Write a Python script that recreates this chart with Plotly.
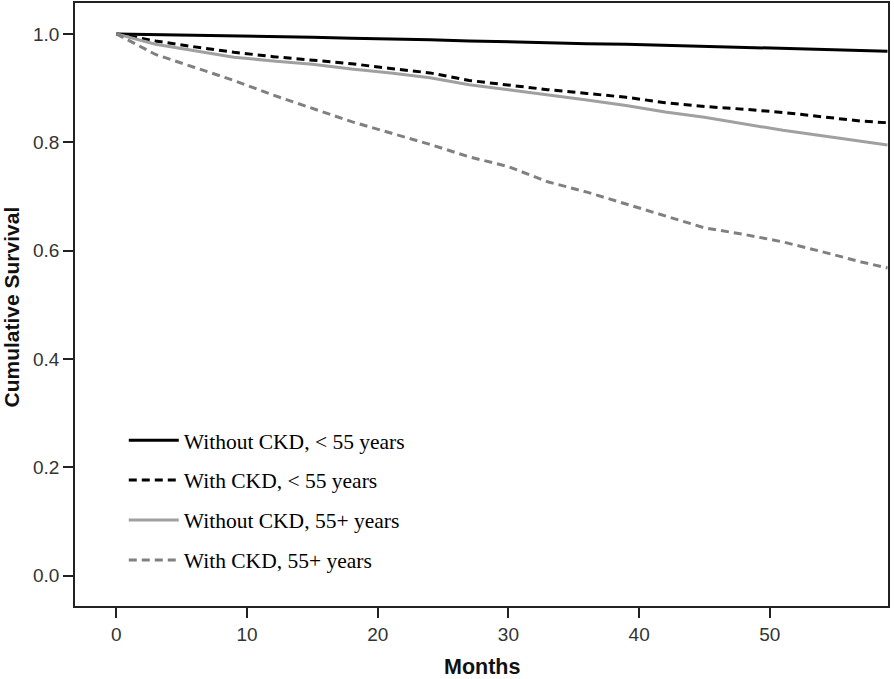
import plotly.graph_objects as go

months = [0, 3, 6, 9, 12, 15, 18, 21, 24, 27, 30, 33, 36, 39, 42, 45, 48, 51, 54, 57, 59]

without_ckd_lt55 = [1.0, 0.999, 0.998, 0.997, 0.995, 0.994, 0.992, 0.991, 0.989, 0.987, 0.985,
                    0.984, 0.982, 0.981, 0.979, 0.977, 0.976, 0.974, 0.972, 0.970, 0.968]
with_ckd_lt55 = [1.0, 0.987, 0.976, 0.966, 0.958, 0.952, 0.945, 0.936, 0.928, 0.914, 0.905,
                 0.897, 0.890, 0.883, 0.873, 0.866, 0.861, 0.855, 0.847, 0.839, 0.836]
without_ckd_55p = [1.0, 0.981, 0.969, 0.957, 0.950, 0.944, 0.935, 0.928, 0.919, 0.906, 0.897,
                   0.888, 0.878, 0.868, 0.856, 0.846, 0.834, 0.822, 0.812, 0.802, 0.795]
with_ckd_55p = [1.0, 0.962, 0.938, 0.914, 0.887, 0.862, 0.838, 0.817, 0.796, 0.773, 0.755,
                0.727, 0.708, 0.686, 0.664, 0.642, 0.630, 0.616, 0.598, 0.579, 0.568]

series_names = ["Without CKD, < 55 years", "With CKD, < 55 years",
                "Without CKD, 55+ years", "With CKD, 55+ years"]
series_values = [without_ckd_lt55, with_ckd_lt55, without_ckd_55p, with_ckd_55p]
series_colors = ["#000000", "#000000", "#a0a0a0", "#808080"]
series_dash = ["solid", "dash", "solid", "dash"]

x_ticks = [0, 10, 20, 30, 40, 50]
y_ticks = [0.0, 0.2, 0.4, 0.6, 0.8, 1.0]
y_tick_labels = ["0.0", "0.2", "0.4", "0.6", "0.8", "1.0"]

fig = go.Figure()
for i, (name, vals, col, dash) in enumerate(zip(series_names, series_values, series_colors, series_dash)):
    fig.add_trace(go.Scatter(
        x=months, y=vals, mode="lines", name=name,
        line=dict(color=col, width=3, dash="8px,5px" if dash == "dash" else "solid"),
        legendgroup=f"g{i}",
    ))

fig.update_layout(
    width=894, height=679,
    margin=dict(l=75, r=6, t=3, b=73, autoexpand=False),
    plot_bgcolor="white", paper_bgcolor="white",
    showlegend=True,
    legend=dict(
        x=0.060, y=0.309, xanchor="left", yanchor="top",
        font=dict(family="Liberation Serif", size=21.5, color="#000000"),
        bgcolor="rgba(0,0,0,0)",
        tracegroupgap=9,
        itemwidth=50,
    ),
    font=dict(family="Liberation Sans, Arial", color="#222222"),
    annotations=[
        dict(text="<b>Months</b>", xref="paper", yref="paper", x=0.5, y=-0.101,
             xanchor="center", yanchor="middle", showarrow=False,
             font=dict(family="Liberation Sans, Arial", size=21.5, color="#111111")),
        dict(text="<b>Cumulative Survival</b>", xref="paper", yref="paper", x=-0.078, y=0.496,
             xanchor="center", yanchor="middle", showarrow=False, textangle=-90,
             font=dict(family="Liberation Sans, Arial", size=21, color="#111111")),
    ],
)
fig.update_xaxes(
    range=[-3.16, 59.04], tickvals=x_ticks, ticks="outside", ticklen=10, tickwidth=1.5,
    tickcolor="#222222", showline=True, linecolor="#222222", linewidth=1.5, mirror=True,
    showgrid=False, zeroline=False, tickfont=dict(size=19, color="#333333"),
    automargin=False,
)
fig.update_yaxes(
    range=[-0.056, 1.057], tickvals=y_ticks, ticktext=y_tick_labels, ticks="outside",
    ticklen=10, tickwidth=1.5, tickcolor="#222222", showline=True, linecolor="#222222",
    linewidth=1.5, mirror=True, showgrid=False, zeroline=False,
    tickfont=dict(size=19, color="#333333"),
    automargin=False,
)

fig.write_html("out.html", config={"displayModeBar": False},
               post_script="document.body.style.margin='0';")
